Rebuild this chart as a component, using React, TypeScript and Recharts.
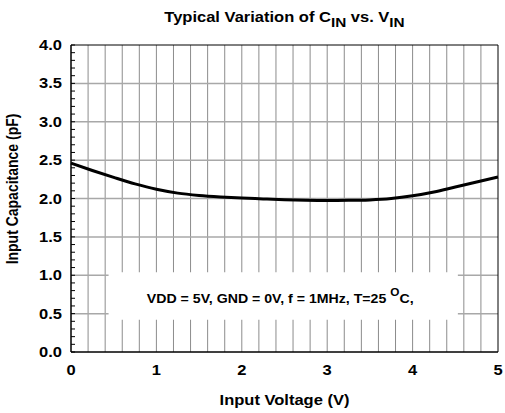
import { LineChart, Line, XAxis, YAxis, CartesianGrid, ReferenceArea, Label } from "recharts";

// values
const voltage = [0, 0.25, 0.5, 0.75, 1.0, 1.25, 1.5, 1.75, 2.0, 2.25, 2.5, 2.75, 3.0, 3.25, 3.5, 3.75, 4.0, 4.25, 4.5, 4.75, 5.0];
const capacitance = [2.46, 2.365, 2.275, 2.19, 2.12, 2.07, 2.04, 2.02, 2.005, 1.995, 1.985, 1.978, 1.975, 1.976, 1.982, 2.0, 2.035, 2.085, 2.15, 2.215, 2.28];

const xTicks = [0, 1, 2, 3, 4, 5];
const yTicks = [
  0, 0.1, 0.2, 0.3, 0.4, 0.5, 0.6, 0.7, 0.8, 0.9, 1.0, 1.1, 1.2, 1.3, 1.4, 1.5, 1.6, 1.7, 1.8, 1.9, 2.0,
  2.1, 2.2, 2.3, 2.4, 2.5, 2.6, 2.7, 2.8, 2.9, 3.0, 3.1, 3.2, 3.3, 3.4, 3.5, 3.6, 3.7, 3.8, 3.9, 4.0,
];
const gridX = [0.2, 0.4, 0.6, 0.8, 1, 1.2, 1.4, 1.6, 1.8, 2, 2.2, 2.4, 2.6, 2.8, 3, 3.2, 3.4, 3.6, 3.8, 4, 4.2, 4.4, 4.6, 4.8];
const gridY = [0.5, 1.0, 1.5, 2.0, 2.5, 3.0, 3.5];

// white note box (in data units)
const noteBox = { x1: 0.44, x2: 4.53, y1: 0.42, y2: 1.04 };

const data = voltage.map((v, i) => ({ v, c: capacitance[i] }));

const FONT = '"Liberation Sans", Arial, sans-serif';
const SX = 1.18; // the reference text is stretched horizontally

const YTick = (props: any) => {
  const { x, y, payload } = props;
  const v = payload.value;
  const major = Math.abs(v * 2 - Math.round(v * 2)) < 1e-6;
  return (
    <g>
      <line x1={x} x2={x + 4} y1={y} y2={y} stroke="#000" strokeWidth={1} />
      {major && (
        <text
          transform={`translate(${x - 9},${y + 5}) scale(${SX},1)`}
          textAnchor="end"
          fontFamily={FONT}
          fontWeight="bold"
          fontSize={14}
          fill="#000"
        >
          {v.toFixed(1)}
        </text>
      )}
    </g>
  );
};

const XTick = (props: any) => {
  const { x, y, payload } = props;
  return (
    <text
      transform={`translate(${x},${y + 23}) scale(${SX},1)`}
      textAnchor="middle"
      fontFamily={FONT}
      fontWeight="bold"
      fontSize={14}
      fill="#000"
    >
      {payload.value}
    </text>
  );
};

const XTitle = (props: any) => {
  const { x, y, width } = props.viewBox;
  return (
    <text
      transform={`translate(${x + width / 2},${y + 53}) scale(${SX},1)`}
      textAnchor="middle"
      fontFamily={FONT}
      fontWeight="bold"
      fontSize={14}
      fill="#000"
    >
      Input Voltage (V)
    </text>
  );
};

const YTitle = (props: any) => {
  const { y, height } = props.viewBox;
  return (
    <text
      transform={`translate(17.5,${y + height / 2 - 9.5}) scale(${SX},1) rotate(-90)`}
      textAnchor="middle"
      fontFamily={FONT}
      fontWeight="bold"
      fontSize={14}
      fill="#000"
    >
      Input Capacitance (pF)
    </text>
  );
};

const NoteText = (props: any) => {
  const { x, y, width, height } = props.viewBox;
  return (
    <text
      transform={`translate(${x + width / 2 - 3},${y + height / 2 + 7}) scale(${SX},1)`}
      textAnchor="middle"
      fontFamily={FONT}
      fontWeight="bold"
      fontSize={12}
      fill="#000"
    >
      VDD = 5V, GND = 0V, f = 1MHz, T=25{" "}
      <tspan dy={-7} fontSize={10}>O</tspan>
      <tspan dy={7}>C,</tspan>
    </text>
  );
};

export default function App() {
  return (
    <div style={{ position: "absolute", left: 0, top: 0, width: 505, height: 413, background: "#fff" }}>
      <LineChart width={505} height={413} data={data} margin={{ top: 45, right: 7, bottom: 0, left: 0 }}>
        <CartesianGrid horizontal={false} verticalValues={gridX} stroke="#8c8c8c" strokeWidth={1} />
        <CartesianGrid vertical={false} horizontalValues={gridY} stroke="#a8a8a8" strokeWidth={1.5} />
        <XAxis
          dataKey="v"
          type="number"
          domain={[0, 5]}
          ticks={xTicks}
          interval={0}
          tickSize={0}
          tickMargin={0}
          tick={<XTick />}
          axisLine={{ stroke: "#000" }}
          height={61}
        >
          <Label content={<XTitle />} />
        </XAxis>
        <YAxis
          type="number"
          domain={[0, 4]}
          ticks={yTicks}
          interval={0}
          tickSize={0}
          tickMargin={0}
          tick={<YTick />}
          axisLine={{ stroke: "#000" }}
          width={71}
        >
          <Label content={<YTitle />} />
        </YAxis>
        <ReferenceArea {...noteBox} fill="#fff" fillOpacity={1} stroke="none" label={<NoteText />} />
        <ReferenceArea x1={0} x2={5} y1={0} y2={4} fill="none" stroke="#000" strokeWidth={1} />
        <Line dataKey="c" type="monotone" stroke="#000" strokeWidth={3} dot={false} isAnimationActive={false} />
      </LineChart>
      <svg width={505} height={40} style={{ position: "absolute", left: 0, top: 0, pointerEvents: "none" }}>
        <text
          transform={`translate(284.5,22) scale(${SX},1)`}
          textAnchor="middle"
          fontFamily={FONT}
          fontWeight="bold"
          fontSize={14}
          fill="#000"
        >
          Typical Variation of C
          <tspan dy={5} fontSize={13}>IN</tspan>
          <tspan dy={-5}> vs. V</tspan>
          <tspan dy={5} fontSize={13}>IN</tspan>
        </text>
      </svg>
    </div>
  );
}
